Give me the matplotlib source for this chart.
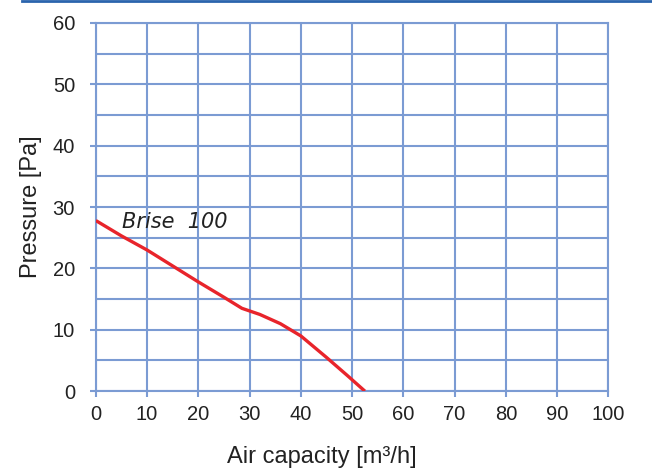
import matplotlib
matplotlib.use("Agg")
import matplotlib.pyplot as plt
from matplotlib.lines import Line2D

# Brise 100 fan curve
air_capacity = [0, 5, 10, 15, 20, 25, 28.5, 32, 36, 40, 45, 49, 52.5]
pressure = [27.8, 25.3, 23.0, 20.4, 17.8, 15.3, 13.5, 12.5, 11.0, 9.0, 5.5, 2.6, 0]

x_ticks = list(range(0, 101, 10))
y_ticks = list(range(0, 61, 10))
y_minor = list(range(5, 60, 10))

grid_color = "#7b9bd3"
curve_color = "#e8242b"

plt.rcParams["font.family"] = ["Liberation Sans", "DejaVu Sans"]

fig = plt.figure(figsize=(6.52, 4.69), dpi=100)
ax = fig.add_axes([0.147, 0.166, 0.786, 0.785])

ax.set_xlim(0, 100)
ax.set_ylim(0, 60)
ax.set_xticks(x_ticks)
ax.set_yticks(y_ticks)
ax.set_yticks(y_minor, minor=True)

ax.grid(True, which="both", color=grid_color, linewidth=1.5)
ax.set_axisbelow(True)
for side in ax.spines.values():
    side.set_color(grid_color)
    side.set_linewidth(1.5)

ax.tick_params(axis="both", which="major", color=grid_color, width=1.5,
               length=4, labelsize=14.5, labelcolor="#222222")
ax.tick_params(axis="x", pad=6)
ax.tick_params(axis="y", pad=11)
ax.tick_params(axis="y", which="minor", length=0)

ax.plot(air_capacity, pressure, color=curve_color, linewidth=2.4,
        solid_capstyle="butt", zorder=3)
ax.text(5.2, 27.6, "Brise  100", fontsize=15, style="italic",
        family=["DejaVu Sans"], color="#222222", va="center", ha="left",
        zorder=4)

ax.set_xlabel("Air capacity [m³/h]", fontsize=17, color="#222222")
ax.set_ylabel("Pressure [Pa]", fontsize=17, color="#222222")
ax.xaxis.set_label_coords(0.44, -0.15)
ax.yaxis.set_label_coords(-0.106, 0.5)

# thin blue rule along the top of the page
fig.add_artist(Line2D([0.034, 1.0], [0.997, 0.997], transform=fig.transFigure,
                      color="#2a64ad", linewidth=2.0))

fig.savefig("out.png", dpi=100)
